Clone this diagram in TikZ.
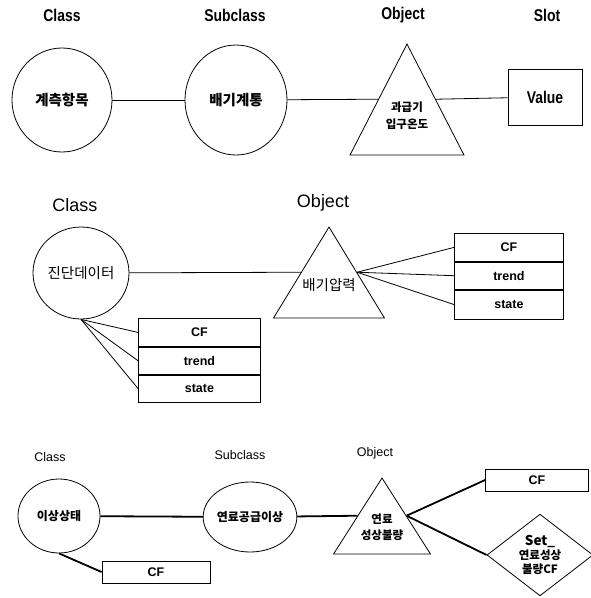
\documentclass[tikz,border=0pt]{standalone}
\usepackage{fontspec}
\setmainfont{Liberation Sans}
\newfontfamily\kr{Noto Sans CJK KR}
\newfontfamily\narrow[FakeStretch=0.82]{Liberation Sans}
\usetikzlibrary{positioning,shapes.geometric}

\tikzset{every picture/.style={line width=0.8pt}}
\tikzset{
  classnode/.style={ellipse,draw,inner sep=0pt},
  objnode/.style={isosceles triangle,isosceles triangle stretches,shape border rotate=90,
    draw,inner sep=0pt,anchor=apex},
  objtext/.style={align=center,inner sep=0pt},
  slotrow/.style={rectangle,draw,inner sep=0pt,font=\bfseries\fontsize{12.5}{14}\selectfont},
  headbold/.style={font=\narrow\bfseries\fontsize{17}{19}\selectfont},
  headplain/.style={font=\fontsize{18}{20}\selectfont},
  headthin/.style={font=\fontsize{12.5}{14}\selectfont},
  thick link/.style={line width=1.8pt}
}

\begin{document}
\begin{tikzpicture}[x=1pt,y=1pt,yscale=-1]
\useasboundingbox (0,0) rectangle (591,598);

% Row 1: class -> subclass -> object -> slot
\node[headbold] (hclassA) at (62,15) {Class};
\node[headbold] (hsubA) at (235,15) {Subclass};
\node[headbold] (hobjA) at (403,15) {Object};
\node[headbold] (hslotA) at (547,15) {Slot};

\node[classnode,minimum width=100,minimum height=104,font=\kr\bfseries\fontsize{14.5}{16}\selectfont] (meas) at (62,100) {계측항목};
\node[classnode,minimum width=102,minimum height=110,font=\kr\bfseries\fontsize{14.5}{16}\selectfont] (exhsys) at (236,100) {배기계통};
\node[objnode,minimum width=114,minimum height=111] (inlet) at (407,43) {};
\node[objtext,font=\kr\bfseries\fontsize{11.5}{17}\selectfont] (inlettxt) at ([yshift=73pt]inlet.apex) {과급기\\입구온도};
\node[draw,minimum width=74,minimum height=56,font=\narrow\bfseries\fontsize{17}{19}\selectfont] (value) at (545,97) {Value};

\draw (meas) -- (exhsys);
\draw (exhsys) -- (inlet.left side);
\draw (inlet.right side) -- (value);

% Row 2: class with slots, object with slots
\node[headplain] (hclassB) at (75,205) {Class};
\node[headplain] (hobjB) at (323,203) {Object};

\node[classnode,minimum width=96,minimum height=92,font=\kr\fontsize{14.5}{16}\selectfont] (diag) at (81,273) {진단데이터};
\node[objnode,minimum width=111,minimum height=91] (press) at (329,226) {};
\node[objtext,font=\kr\fontsize{14.5}{16}\selectfont] (presstxt) at ([yshift=59pt]press.apex) {배기압력};

\node[slotrow,minimum width=122,minimum height=28,anchor=north west] (cfB) at (138,318) {CF};
\node[slotrow,minimum width=122,minimum height=27,below=0pt of cfB] (trendB) {trend};
\node[slotrow,minimum width=122,minimum height=27,below=0pt of trendB] (stateB) {state};

\node[slotrow,minimum width=109,minimum height=28,anchor=north west] (cfC) at (454,233) {CF};
\node[slotrow,minimum width=109,minimum height=27,below=0pt of cfC] (trendC) {trend};
\node[slotrow,minimum width=109,minimum height=29,below=0pt of trendC] (stateC) {state};

\draw (diag) -- (press.left side);
\foreach \s in {cfB,trendB,stateB}
  \draw (diag.south) -- (\s.west);
\foreach \s in {cfC,trendC,stateC}
  \draw (press.right side) -- (\s.west);

% Row 3: fault class, subclass, object, CF and set
\node[headthin] (hclassD) at (50,457) {Class};
\node[headthin] (hsubD) at (240,455) {Subclass};
\node[headthin] (hobjD) at (375,453) {Object};

\node[classnode,minimum width=82,minimum height=74,font=\kr\bfseries\fontsize{12}{14}\selectfont] (fault) at (59,516) {이상상태};
\node[classnode,minimum width=86,minimum height=70,font=\kr\bfseries\fontsize{12}{14}\selectfont] (fuel) at (250,517) {연료공급이상};
\node[objnode,minimum width=97,minimum height=76] (quality) at (382,477) {};
\node[objtext,font=\kr\bfseries\fontsize{11.5}{16}\selectfont] (qualitytxt) at ([yshift=50pt]quality.apex) {연료\\성상불량};

\node[slotrow,minimum width=108,minimum height=22] (cfD) at (156,572) {CF};
\node[slotrow,minimum width=103,minimum height=22] (cfE) at (537,480) {CF};
\node[diamond,draw,inner sep=0pt,minimum width=106,minimum height=77,align=center,
  font=\kr\bfseries\fontsize{11.5}{14}\selectfont] (setcf) at (540,555)
  {{\fontsize{13.5}{14}\selectfont Set\_}\\연료성상\\불량CF};

\draw[thick link] (fault) -- (fuel);
\draw[thick link] (fuel) -- (quality.left side);
\draw[thick link] (fault.south) -- (cfD.west);
\draw[thick link] (quality.right side) -- (cfE.west);
\draw[thick link] (quality.right side) -- (setcf.west);

\end{tikzpicture}
\end{document}
